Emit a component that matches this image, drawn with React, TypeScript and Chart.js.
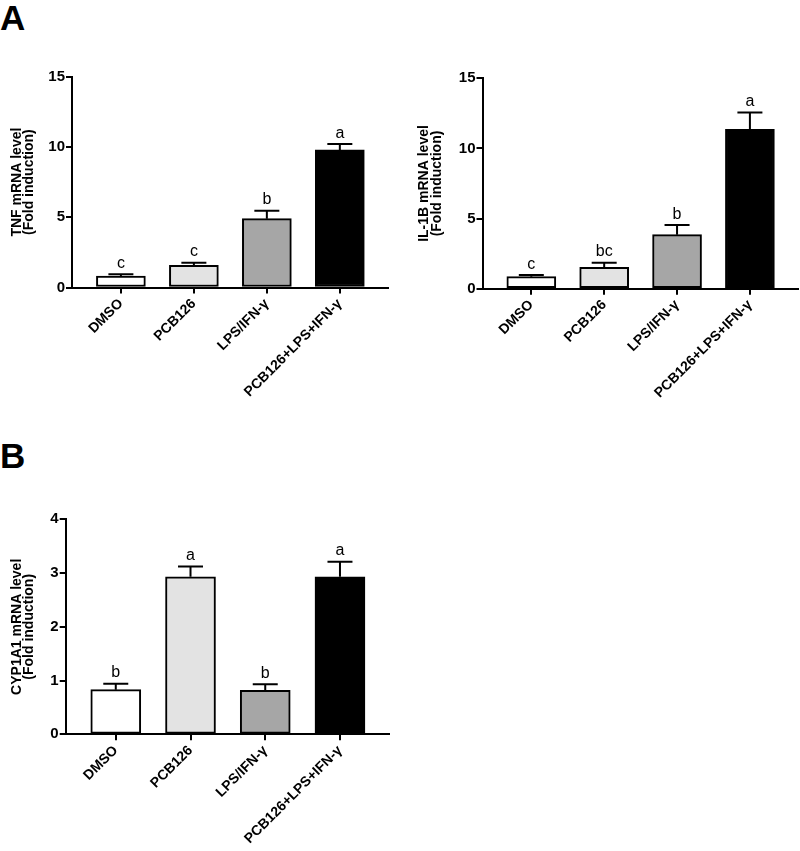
import React, { useEffect, useRef } from "react";
import { Chart, registerables } from "chart.js";

Chart.register(...registerables);

const FONT = '"Liberation Sans", Arial, Helvetica, sans-serif';

const categories = ["DMSO", "PCB126", "LPS/IFN-γ", "PCB126+LPS+IFN-γ"];
const barColors = ["#ffffff", "#e3e3e3", "#a6a6a6", "#000000"];

const tnfMean = [0.82, 1.58, 4.9, 9.79];
const tnfErrTop = [0.94, 1.77, 5.47, 10.21];
const tnfLetters = ["c", "c", "b", "a"];
const tnfTitle = ["TNF mRNA level", "(Fold induction)"];
const tnfTicks = { max: 15, step: 5 };

const il1bMean = [0.86, 1.52, 3.85, 11.36];
const il1bErrTop = [0.97, 1.85, 4.54, 12.57];
const il1bLetters = ["c", "bc", "b", "a"];
const il1bTitle = ["IL-1B mRNA level", "(Fold induction)"];
const il1bTicks = { max: 15, step: 5 };

const cypMean = [0.83, 2.93, 0.82, 2.93];
const cypErrTop = [0.94, 3.12, 0.93, 3.21];
const cypLetters = ["b", "a", "b", "a"];
const cypTitle = ["CYP1A1 mRNA level", "(Fold induction)"];
const cypTicks = { max: 4, step: 1 };

type Area = { left: number; right: number; top: number; bottom: number };

type PanelProps = {
  left: number;
  top: number;
  width: number;
  height: number;
  area: Area;
  means: number[];
  errs: number[];
  letters: string[];
  title: string[];
  yMax: number;
  yStep: number;
  titlePad: number;
  barW: number;
};

function Panel(p: PanelProps) {
  const ref = useRef<HTMLCanvasElement | null>(null);
  useEffect(() => {
    if (!ref.current) return;
    const errPlugin = {
      id: "errLetters",
      afterDatasetsDraw(chart: any) {
        const ctx = chart.ctx as CanvasRenderingContext2D;
        const xs = chart.scales.x;
        const ys = chart.scales.y;
        ctx.save();
        ctx.strokeStyle = "#000";
        ctx.lineWidth = 2;
        ctx.fillStyle = "#000";
        ctx.font = `16px ${FONT}`;
        ctx.textAlign = "center";
        ctx.textBaseline = "alphabetic";
        p.means.forEach((m, i) => {
          const x = xs.getPixelForValue(i + 1);
          const y0 = ys.getPixelForValue(m);
          const y1 = ys.getPixelForValue(p.errs[i]);
          ctx.beginPath();
          ctx.moveTo(x, y0);
          ctx.lineTo(x, y1);
          ctx.moveTo(x - 12.5, y1);
          ctx.lineTo(x + 12.5, y1);
          ctx.stroke();
          ctx.fillText(p.letters[i], x, y1 - 6.5);
        });
        ctx.restore();
      },
    };
    const chart = new Chart(ref.current, {
      type: "bar",
      data: {
        datasets: [
          {
            data: p.means.map((v, i) => ({ x: i + 1, y: v })),
            backgroundColor: barColors,
            borderColor: "#000",
            borderWidth: 2,
            borderSkipped: false,
            barThickness: p.barW,
          } as any,
        ],
      },
      options: {
        responsive: false,
        maintainAspectRatio: false,
        animation: false,
        events: [],
        layout: {
          padding: { left: 0, top: p.area.top, right: p.width - p.area.right, bottom: 0 },
        },
        plugins: { legend: { display: false }, tooltip: { enabled: false } },
        scales: {
          x: {
            type: "linear",
            offset: false,
            min: 0.33,
            max: 4.66,
            afterBuildTicks: (s: any) => {
              s.ticks = categories.map((_, i) => ({ value: i + 1 }));
            },
            afterFit: (s: any) => {
              s.height = p.height - p.area.bottom;
            },
            ticks: {
              autoSkip: false,
              minRotation: 45,
              maxRotation: 45,
              padding: 2,
              color: "#000",
              font: { family: FONT, size: 14, weight: "bold" },
              callback: (v: any) => categories[Math.round(Number(v)) - 1] ?? "",
            },
            grid: {
              display: true,
              offset: false,
              drawOnChartArea: false,
              drawTicks: true,
              tickLength: 6,
              color: "#000",
              lineWidth: 2,
            },
            border: { display: true, color: "#000", width: 2 },
          },
          y: {
            min: 0,
            max: p.yMax,
            afterFit: (s: any) => {
              s.width = p.area.left;
            },
            ticks: {
              stepSize: p.yStep,
              color: "#000",
              padding: 1,
              font: { family: FONT, size: 15, weight: "bold" },
            },
            title: {
              display: true,
              text: p.title,
              color: "#000",
              font: { family: FONT, size: 14, weight: "bold", lineHeight: 0.9 },
              padding: { top: p.titlePad, bottom: 0 },
            },
            grid: {
              display: true,
              drawOnChartArea: false,
              drawTicks: true,
              tickLength: 6,
              color: "#000",
              lineWidth: 2,
            },
            border: { display: true, color: "#000", width: 2 },
          },
        },
      } as any,
      plugins: [errPlugin],
    });
    return () => chart.destroy();
  }, []);
  return (
    <canvas
      ref={ref}
      width={p.width}
      height={p.height}
      style={{ position: "absolute", left: p.left, top: p.top, width: p.width, height: p.height, display: "block" }}
    />
  );
}

const letterStyle: React.CSSProperties = {
  position: "absolute",
  left: 0,
  fontFamily: FONT,
  fontWeight: "bold",
  fontSize: 35,
  lineHeight: "35px",
  color: "#000",
};

export default function App() {
  return (
    <div style={{ position: "absolute", left: 0, top: 0, width: 800, height: 851, background: "#fff", overflow: "hidden" }}>
      <div style={{ ...letterStyle, top: 0 }}>A</div>
      <div style={{ ...letterStyle, top: 438 }}>B</div>
      <Panel
        left={0}
        top={50}
        width={400}
        height={390}
        area={{ left: 72, right: 388, top: 26.7, bottom: 237.5 }}
        means={tnfMean}
        errs={tnfErrTop}
        letters={tnfLetters}
        title={tnfTitle}
        yMax={tnfTicks.max}
        yStep={tnfTicks.step}
        titlePad={10.4}
        barW={49}
      />
      <Panel
        left={400}
        top={50}
        width={400}
        height={390}
        area={{ left: 82.5, right: 398, top: 28.3, bottom: 238.7 }}
        means={il1bMean}
        errs={il1bErrTop}
        letters={il1bLetters}
        title={il1bTitle}
        yMax={il1bTicks.max}
        yStep={il1bTicks.step}
        titlePad={18}
        barW={49}
      />
      <Panel
        left={0}
        top={480}
        width={400}
        height={371}
        area={{ left: 65.7, right: 389.3, top: 39.3, bottom: 254.3 }}
        means={cypMean}
        errs={cypErrTop}
        letters={cypLetters}
        title={cypTitle}
        yMax={cypTicks.max}
        yStep={cypTicks.step}
        titlePad={10.4}
        barW={50}
      />
    </div>
  );
}
